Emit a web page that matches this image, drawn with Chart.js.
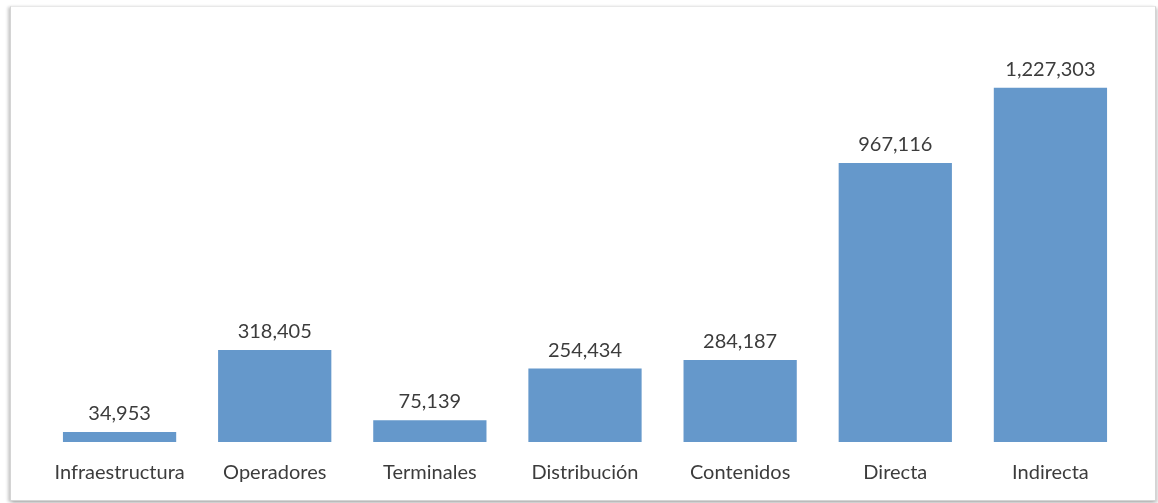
<!DOCTYPE html>
<html>
<head>
<meta charset="utf-8">
<script src="https://cdn.jsdelivr.net/npm/chart.js@4"></script>
<style>
    html, body { margin: 0; padding: 0; background: #ffffff; }
    #wrap { position: relative; width: 1158px; height: 503px; overflow: hidden; }
    #frame {
        position: absolute; left: 10px; top: 6px; width: 1144px; height: 493px;
        border: 1px solid #d4d4d4;
        border-top-color: #e8e8e8;
        box-shadow: -2px 1px 3px rgba(0,0,0,0.22), 2px 2px 3px rgba(0,0,0,0.18);
        background: #ffffff;
    }
    #chart { position: absolute; left: 0; top: 0; }
</style>
</head>
<body>
<div id="wrap">
    <div id="frame"></div>
    <canvas id="chart" width="1158" height="503"></canvas>
</div>
<script>
// ===================== DATA =====================

const categories = ['Infraestructura', 'Operadores', 'Terminales', 'Distribución', 'Contenidos', 'Directa', 'Indirecta'];
const values     = [34953, 318405, 75139, 254434, 284187, 967116, 1227303];

const barColor  = '#6598cb';
const textColor = '#3c3c3c';
const fontName  = 'Lato, "Open Sans", sans-serif';

// ===================== VALUE LABELS =====================

const valueLabels = {
    id: 'valueLabels',
    afterDatasetsDraw(chart) {
        const ctx = chart.ctx;
        const meta = chart.getDatasetMeta(0);
        ctx.save();
        ctx.font = '20px ' + fontName;
        ctx.fillStyle = textColor;
        ctx.textAlign = 'center';
        ctx.textBaseline = 'alphabetic';
        meta.data.forEach((bar, i) => {
            ctx.fillText(values[i].toLocaleString('en-US'), bar.x, bar.y - 12);
        });
        ctx.restore();
    }
};

// ===================== CHART =====================

new Chart(document.getElementById('chart'), {
    type: 'bar',
    data: {
        labels: categories,
        datasets: [{
            data: values,
            backgroundColor: barColor,
            borderWidth: 0,
            barPercentage: 0.73,
            categoryPercentage: 1.0
        }]
    },
    options: {
        responsive: false,
        animation: false,
        layout: { padding: { left: 42, right: 30, top: 38, bottom: 7 } },
        plugins: {
            legend: { display: false },
            tooltip: { enabled: false }
        },
        scales: {
            x: {
                grid: { display: false },
                border: { display: false },
                ticks: { color: textColor, font: { family: fontName, size: 20 }, padding: 11, maxRotation: 0 }
            },
            y: {
                display: false,
                min: 0,
                max: 1400000
            }
        }
    },
    plugins: [valueLabels]
});
</script>
</body>
</html>
